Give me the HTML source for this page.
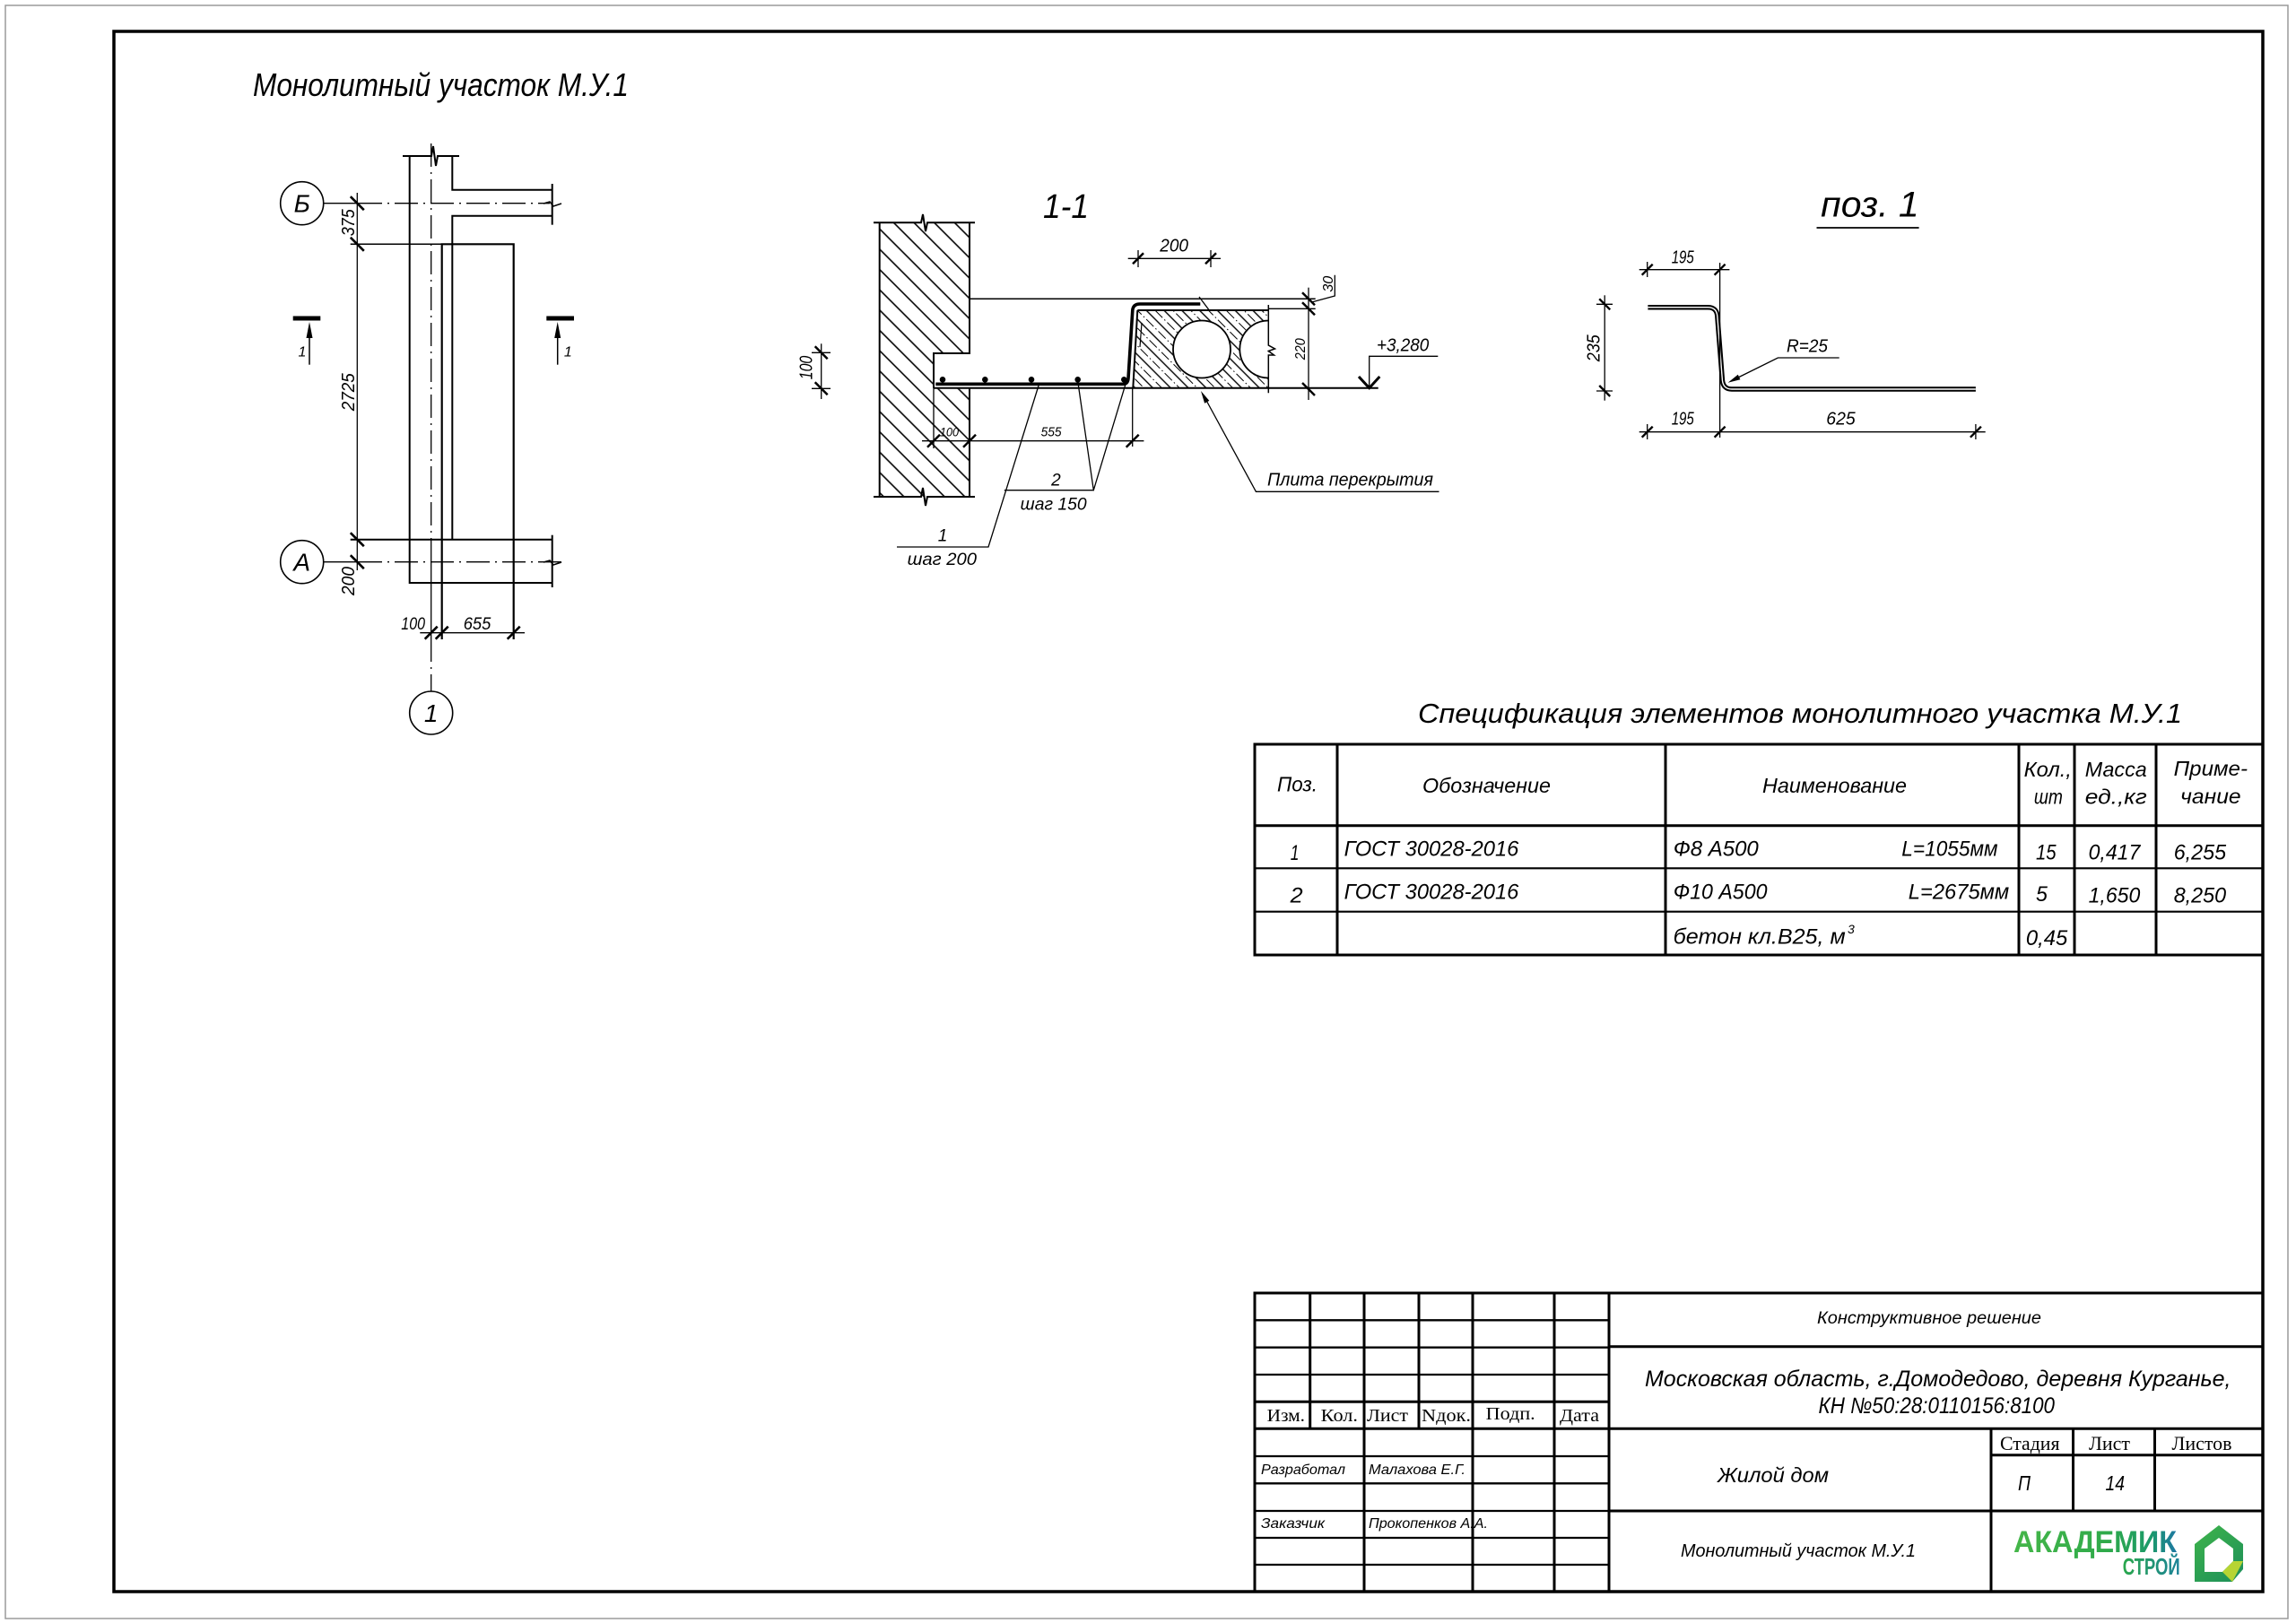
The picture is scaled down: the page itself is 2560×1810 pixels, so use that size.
<!DOCTYPE html>
<html><head><meta charset="utf-8"><style>
html,body{margin:0;padding:0;background:#fff;}
svg{display:block}
.t{font-family:"Liberation Sans","Noto Sans CJK SC",sans-serif;font-style:italic;fill:#000;stroke:none}
.s{font-family:"Liberation Serif","Noto Serif CJK SC",serif;fill:#000;stroke:none}
</style></head><body>
<svg width="2560" height="1810" viewBox="0 0 2560 1810" xmlns="http://www.w3.org/2000/svg">
<defs>
<pattern id="hw" patternUnits="userSpaceOnUse" width="16" height="16" patternTransform="rotate(-45)">
<line x1="1" y1="-2" x2="1" y2="18" stroke="#000" stroke-width="1.6"/>
</pattern>
<pattern id="hs" patternUnits="userSpaceOnUse" width="14" height="19" patternTransform="rotate(-45)">
<line x1="1" y1="-2" x2="1" y2="21" stroke="#000" stroke-width="1.4"/>
<line x1="8" y1="0" x2="8" y2="19" stroke="#000" stroke-width="1" stroke-dasharray="8,3,1.5,3"/>
</pattern>
<linearGradient id="lg" gradientUnits="userSpaceOnUse" x1="2245" y1="0" x2="2436" y2="0">
<stop offset="0" stop-color="#45b649"/><stop offset="0.55" stop-color="#2faa4a"/><stop offset="0.8" stop-color="#1b9a6a"/><stop offset="1" stop-color="#1f6db5"/>
</linearGradient>
<linearGradient id="lg2" gradientUnits="userSpaceOnUse" x1="2366" y1="0" x2="2436" y2="0">
<stop offset="0" stop-color="#2aa84a"/><stop offset="1" stop-color="#1a7fa0"/>
</linearGradient>
<linearGradient id="lg3" gradientUnits="userSpaceOnUse" x1="2447" y1="1701" x2="2501" y2="1763">
<stop offset="0" stop-color="#3fb44a"/><stop offset="1" stop-color="#1c8f5a"/>
</linearGradient>
</defs>
<rect width="2560" height="1810" fill="#fff"/>
<rect x="6" y="6" width="2545" height="1799" fill="none" stroke="#9a9a9a" stroke-width="1.5"/>
<rect x="127" y="35" width="2396" height="1740" fill="none" stroke="#000" stroke-width="3.5"/>

<!-- ============ PLAN ============ -->
<text class="t" x="282" y="107" font-size="36" textLength="419" lengthAdjust="spacingAndGlyphs">Монолитный участок М.У.1</text>
<g fill="none" stroke="#000" stroke-width="2">
<path d="M449,174 H481 L483,163 L486,185 L488,174 H512"/>
<path d="M456.7,174 V650 H615.7"/>
<path d="M504.3,174 V211.7 H615.7"/>
<path d="M615.7,240.7 H504.3 V601.7"/>
<path d="M615.7,205 V250.7"/>
<path d="M606,227 L613,225 L617,230 L626,227" stroke-width="1.5"/>
<path d="M615.7,596.7 V655"/>
<path d="M606,627 L613,625 L617,630 L626,627" stroke-width="1.5"/>
<path d="M492.7,713 V272.3 H572.7 V713" stroke-width="2.2"/>
<path d="M390.7,272.3 H492.7" stroke-width="1.5"/>
<path d="M390.7,601.7 H615.7" stroke-width="2"/>
</g>
<g fill="none" stroke="#000" stroke-width="1.3">
<path d="M360.7,226.7 H400"/>
<path d="M400,226.7 H613" stroke-dasharray="26,6,2,6"/>
<path d="M360.7,626.7 H400"/>
<path d="M400,626.7 H626" stroke-dasharray="26,6,2,6"/>
<path d="M480.7,160 V600" stroke-dasharray="26,6,2,6"/>
<path d="M480.7,600 V716"/>
<path d="M480.7,716 V771" stroke-dasharray="22,6,2,6"/>
<circle cx="336.7" cy="226.7" r="24" stroke-width="1.6"/>
<circle cx="336.7" cy="626.7" r="24" stroke-width="1.6"/>
<circle cx="480.7" cy="795" r="24" stroke-width="1.6"/>
<path d="M398.3,215 V636"/>
<path d="M468.3,705.7 H585"/>
</g>
<g stroke="#000" stroke-width="2.6">
<line x1="390.8" y1="219.2" x2="405.8" y2="234.2"/>
<line x1="390.8" y1="264.8" x2="405.8" y2="279.8"/>
<line x1="390.8" y1="594.2" x2="405.8" y2="609.2"/>
<line x1="390.8" y1="619.2" x2="405.8" y2="634.2"/>
<line x1="473.7" y1="712.7" x2="487.7" y2="698.7"/>
<line x1="485.7" y1="712.7" x2="499.7" y2="698.7"/>
<line x1="565.7" y1="712.7" x2="579.7" y2="698.7"/>
</g>
<text class="t" x="336.7" y="236.5" font-size="28" text-anchor="middle">Б</text>
<text class="t" x="336.7" y="636.5" font-size="28" text-anchor="middle">А</text>
<text class="t" x="480.7" y="805" font-size="28" text-anchor="middle">1</text>
<text class="t" transform="translate(395,248.3) rotate(-90)" font-size="20" text-anchor="middle" textLength="30" lengthAdjust="spacingAndGlyphs">375</text>
<text class="t" transform="translate(395,437.3) rotate(-90)" font-size="20" text-anchor="middle" textLength="42" lengthAdjust="spacingAndGlyphs">2725</text>
<text class="t" transform="translate(395,648) rotate(-90)" font-size="20" text-anchor="middle" textLength="32" lengthAdjust="spacingAndGlyphs">200</text>
<text class="t" x="447.3" y="702" font-size="19" textLength="26.7" lengthAdjust="spacingAndGlyphs">100</text>
<text class="t" x="516.7" y="702" font-size="19" textLength="30.6" lengthAdjust="spacingAndGlyphs">655</text>
<!-- section marks -->
<rect x="326.7" y="352.5" width="30.6" height="5" fill="#000"/>
<line x1="345" y1="372" x2="345" y2="406.7" stroke="#000" stroke-width="1.5"/>
<path d="M345,359 L341.5,377 L348.5,377 Z" fill="#000"/>
<text class="t" x="337" y="397.5" font-size="16" text-anchor="middle">1</text>
<rect x="609.3" y="352.5" width="30.7" height="5" fill="#000"/>
<line x1="621.7" y1="372" x2="621.7" y2="406.7" stroke="#000" stroke-width="1.5"/>
<path d="M621.7,359 L618.2,377 L625.2,377 Z" fill="#000"/>
<text class="t" x="633.3" y="397.5" font-size="16" text-anchor="middle">1</text>

<!-- ============ SECTION 1-1 ============ -->
<text class="t" x="1163" y="243" font-size="38" textLength="51" lengthAdjust="spacingAndGlyphs">1-1</text>
<polygon points="980.7,248.3 1081,248.3 1081,394 1041,394 1041,432.7 1081,432.7 1081,554 980.7,554" fill="url(#hw)" stroke="none"/>
<g fill="none" stroke="#000" stroke-width="2">
<path d="M974,248.3 H1027 L1029,239 L1032,258 L1034,248.3 H1087"/>
<path d="M974,554 H1027 L1029,544 L1032,564 L1034,554 H1087"/>
<path d="M980.7,248.3 V554"/>
<path d="M1081,248.3 V394 H1041 V432.7"/>
<path d="M1081,432.7 V554"/>
</g>
<!-- hollow core slab -->
<polygon points="1268.3,346 1414.3,346 1414.3,432.7 1263.3,432.7" fill="url(#hs)" stroke="none"/>
<circle cx="1340" cy="389.5" r="32" fill="#fff" stroke="#000" stroke-width="1.8"/>
<path d="M1414.3,357.5 A32,32 0 0 0 1414.3,421.5 Z" fill="#fff" stroke="none"/>
<path d="M1414.3,357.5 A32,32 0 0 0 1414.3,421.5" fill="none" stroke="#000" stroke-width="1.8"/>
<g fill="none" stroke="#000" stroke-width="2">
<path d="M1268.3,346 H1414.3"/>
<path d="M1268.3,346 L1263.3,432.7"/>
<path d="M1273,360 L1271,387" stroke-width="1.2"/>
<path d="M1414.3,340 V385 L1421.5,389 L1414.3,391.5 L1420.5,396 L1414.3,396 V438.3" stroke-width="1.5"/>
<path d="M1081,333.3 H1466.7" stroke-width="1.5"/>
<path d="M1337,331 L1349,347" stroke-width="1.3"/>
<path d="M1041,432.7 H1536.7" stroke-width="2"/>
<path d="M1414.3,344.3 H1466.7" stroke-width="1.3"/>
</g>
<path d="M1043.3,428.3 H1252 Q1257.5,428.3 1258,422 L1262.8,346 Q1263.5,339 1271,339 H1338.3" fill="none" stroke="#000" stroke-width="3.6"/>
<g fill="#000">
<circle cx="1051" cy="423.3" r="3.3"/><circle cx="1098.3" cy="423.3" r="3.3"/><circle cx="1150" cy="423.3" r="3.3"/><circle cx="1201.7" cy="423.3" r="3.3"/><circle cx="1253.3" cy="423.3" r="3.3"/>
</g>
<!-- dims section -->
<g fill="none" stroke="#000" stroke-width="1.3">
<path d="M1257.7,288.3 H1361"/>
<path d="M1269,279 V298 M1350,279 V298"/>
<path d="M1459,320.7 V446"/>
<path d="M1463.3,336.7 L1488.3,330 V306.7"/>
<path d="M1526.7,433 V397.3 H1603.3"/>
<path d="M915.7,383.3 V445"/>
<path d="M905,393.3 H926 M905,433.3 H926"/>
<path d="M1028,491.7 H1275.4"/>
<path d="M1041,432.7 V500"/>
<path d="M1262.7,432.7 V498"/>
<path d="M1119.8,546.7 H1219.3 L1201.7,425 M1219.3,546.7 L1255,428.3"/>
<path d="M1000,610 H1102 L1158,430"/>
<path d="M1604.5,548.3 H1400.4 L1342,441"/>
</g>
<g stroke="#000" stroke-width="2.5">
<line x1="1263" y1="294.3" x2="1275" y2="282.3"/>
<line x1="1344" y1="294.3" x2="1356" y2="282.3"/>
<line x1="1452" y1="326.3" x2="1466" y2="340.3"/>
<line x1="1452" y1="337.3" x2="1466" y2="351.3"/>
<line x1="1452" y1="427" x2="1466" y2="441"/>
<line x1="908.7" y1="386.3" x2="922.7" y2="400.3"/>
<line x1="908.7" y1="426.3" x2="922.7" y2="440.3"/>
<line x1="1034" y1="498.7" x2="1048" y2="484.7"/>
<line x1="1074" y1="498.7" x2="1088" y2="484.7"/>
<line x1="1255.7" y1="498.7" x2="1269.7" y2="484.7"/>
</g>
<polyline points="1515,420 1526.7,432.7 1538.3,420" fill="none" stroke="#000" stroke-width="3"/>
<path d="M1339,436 L1348.3,446.9 L1343.1,449.7 Z" fill="#000"/>
<text class="t" x="1293.3" y="280.7" font-size="20" textLength="31.7" lengthAdjust="spacingAndGlyphs">200</text>
<text class="t" transform="translate(1486,316.7) rotate(-90)" font-size="16" text-anchor="middle" textLength="18" lengthAdjust="spacingAndGlyphs">30</text>
<text class="t" transform="translate(1455,389.3) rotate(-90)" font-size="16" text-anchor="middle" textLength="24" lengthAdjust="spacingAndGlyphs">220</text>
<text class="t" x="1535" y="391.7" font-size="20" textLength="58.3" lengthAdjust="spacingAndGlyphs">+3,280</text>
<text class="t" transform="translate(905.5,410) rotate(-90)" font-size="20" text-anchor="middle" textLength="26.6" lengthAdjust="spacingAndGlyphs">100</text>
<text class="t" x="1048" y="486.7" font-size="14" textLength="21" lengthAdjust="spacingAndGlyphs">100</text>
<text class="t" x="1160.6" y="486.7" font-size="15" textLength="23" lengthAdjust="spacingAndGlyphs">555</text>
<text class="t" x="1177.4" y="541.7" font-size="19" text-anchor="middle">2</text>
<text class="t" x="1137.7" y="568.3" font-size="19" textLength="73.9" lengthAdjust="spacingAndGlyphs">шаг 150</text>
<text class="t" x="1051" y="603.3" font-size="19" text-anchor="middle">1</text>
<text class="t" x="1011.6" y="630" font-size="19" textLength="77.4" lengthAdjust="spacingAndGlyphs">шаг 200</text>
<text class="t" x="1413" y="541.7" font-size="20" textLength="185" lengthAdjust="spacingAndGlyphs">Плита перекрытия</text>

<!-- ============ POZ 1 ============ -->
<text class="t" x="2030.2" y="241.7" font-size="40" textLength="109.4" lengthAdjust="spacingAndGlyphs">поз. 1</text>
<line x1="2025.5" y1="254" x2="2139.6" y2="254" stroke="#000" stroke-width="1.8"/>
<path d="M1837.4,342.7 H1904 Q1914,342.7 1914.8,352.5 L1920.4,424 Q1921.3,434 1931,434 H2202.9" fill="none" stroke="#000" stroke-width="5.5"/>
<path d="M1837.4,342.7 H1904 Q1914,342.7 1914.8,352.5 L1920.4,424 Q1921.3,434 1931,434 H2202.9" fill="none" stroke="#fff" stroke-width="1.4"/>
<g fill="none" stroke="#000" stroke-width="1.3">
<path d="M1827.7,300.7 H1928.4"/>
<path d="M1917.6,293 V488"/>
<path d="M1836.7,292 V309"/>
<path d="M1827.7,481.7 H2213.7"/>
<path d="M1836.7,473 V490 M2202.9,473 V490"/>
<path d="M1789.2,329.3 V446.7"/>
<path d="M1780,339.3 H1798 M1780,436 H1798"/>
<path d="M2050.7,399 H1982.4 L1938,421"/>
</g>
<g stroke="#000" stroke-width="2.4">
<line x1="1830.7" y1="306.7" x2="1842.7" y2="294.7"/>
<line x1="1911.6" y1="306.7" x2="1923.6" y2="294.7"/>
<line x1="1830.7" y1="487.7" x2="1842.7" y2="475.7"/>
<line x1="1911.6" y1="487.7" x2="1923.6" y2="475.7"/>
<line x1="2196.9" y1="487.7" x2="2208.9" y2="475.7"/>
<line x1="1783.2" y1="333.3" x2="1795.2" y2="345.3"/>
<line x1="1783.2" y1="430" x2="1795.2" y2="442"/>
</g>
<path d="M1926.6,426.7 L1940.4,423.2 L1937.8,417.8 Z" fill="#000"/>
<text class="t" x="1863.7" y="293.3" font-size="20" textLength="25.1" lengthAdjust="spacingAndGlyphs">195</text>
<text class="t" x="1863.7" y="473.3" font-size="20" textLength="25.1" lengthAdjust="spacingAndGlyphs">195</text>
<text class="t" x="2036.3" y="473.3" font-size="20" textLength="32.4" lengthAdjust="spacingAndGlyphs">625</text>
<text class="t" transform="translate(1783.5,388.3) rotate(-90)" font-size="20" text-anchor="middle" textLength="30" lengthAdjust="spacingAndGlyphs">235</text>
<text class="t" x="1992" y="392.3" font-size="20" textLength="46" lengthAdjust="spacingAndGlyphs">R=25</text>

<!-- ============ SPEC TABLE ============ -->
<text class="t" x="1581" y="806" font-size="31" textLength="852" lengthAdjust="spacingAndGlyphs">Спецификация элементов монолитного участка М.У.1</text>
<g stroke="#000" stroke-width="3" fill="none">
<rect x="1399" y="830" width="1124" height="235"/>
<line x1="1399" y1="920.7" x2="2523" y2="920.7"/>
<line x1="1399" y1="968.3" x2="2523" y2="968.3" stroke-width="2.2"/>
<line x1="1399" y1="1016.7" x2="2523" y2="1016.7" stroke-width="2.2"/>
<path d="M1491,830 V1065 M1857,830 V1065 M2251,830 V1065 M2313,830 V1065 M2404,830 V1065"/>
</g>
<g font-size="23">
<text class="t" x="1424" y="882.7" textLength="45" lengthAdjust="spacingAndGlyphs">Поз.</text>
<text class="t" x="1586" y="884" textLength="143" lengthAdjust="spacingAndGlyphs">Обозначение</text>
<text class="t" x="1965" y="884" textLength="161" lengthAdjust="spacingAndGlyphs">Наименование</text>
<text class="t" x="2256.7" y="866" textLength="53.2" lengthAdjust="spacingAndGlyphs">Кол.,</text>
<text class="t" x="2267.9" y="896.7" textLength="32" lengthAdjust="spacingAndGlyphs">шт</text>
<text class="t" x="2324.8" y="866" textLength="68.9" lengthAdjust="spacingAndGlyphs">Масса</text>
<text class="t" x="2324.8" y="896.7" textLength="68.9" lengthAdjust="spacingAndGlyphs">ед.,кг</text>
<text class="t" x="2423.7" y="865" textLength="82.3" lengthAdjust="spacingAndGlyphs">Приме-</text>
<text class="t" x="2431.2" y="896" textLength="67.4" lengthAdjust="spacingAndGlyphs">чание</text>
</g>
<g font-size="24">
<text class="t" x="1438.7" y="959" textLength="9.7" lengthAdjust="spacingAndGlyphs">1</text>
<text class="t" x="1498.6" y="954.3" textLength="194.8" lengthAdjust="spacingAndGlyphs">ГОСТ 30028-2016</text>
<text class="t" x="1865.7" y="954.3" textLength="95.1" lengthAdjust="spacingAndGlyphs">Ф8 А500</text>
<text class="t" x="2120.3" y="954.3" textLength="107.2" lengthAdjust="spacingAndGlyphs">L=1055мм</text>
<text class="t" x="2270" y="958.3" textLength="22.6" lengthAdjust="spacingAndGlyphs">15</text>
<text class="t" x="2328.6" y="958.3" textLength="57.7" lengthAdjust="spacingAndGlyphs">0,417</text>
<text class="t" x="2423.7" y="958.3" textLength="58.4" lengthAdjust="spacingAndGlyphs">6,255</text>
<text class="t" x="1438.7" y="1006.7" textLength="14" lengthAdjust="spacingAndGlyphs">2</text>
<text class="t" x="1498.6" y="1002.7" textLength="194.8" lengthAdjust="spacingAndGlyphs">ГОСТ 30028-2016</text>
<text class="t" x="1865.7" y="1002.7" textLength="104.8" lengthAdjust="spacingAndGlyphs">Ф10 А500</text>
<text class="t" x="2127.8" y="1002.7" textLength="112.4" lengthAdjust="spacingAndGlyphs">L=2675мм</text>
<text class="t" x="2270" y="1005" textLength="12.9" lengthAdjust="spacingAndGlyphs">5</text>
<text class="t" x="2328.6" y="1006.3" textLength="57.7" lengthAdjust="spacingAndGlyphs">1,650</text>
<text class="t" x="2423.7" y="1006.3" textLength="58.4" lengthAdjust="spacingAndGlyphs">8,250</text>
<text class="t" x="1865.7" y="1052.5" textLength="192" lengthAdjust="spacingAndGlyphs">бетон кл.В25, м</text>
<text class="t" x="2060" y="1041" font-size="14">3</text>
<text class="t" x="2258.9" y="1054" textLength="46.4" lengthAdjust="spacingAndGlyphs">0,45</text>
</g>

<!-- ============ TITLE BLOCK ============ -->
<g stroke="#000" stroke-width="3" fill="none">
<rect x="1399" y="1442" width="1124" height="333"/>
<path d="M1460.7,1442 V1593.3 M1582,1442 V1593.3"/>
<path d="M1521,1442 V1775 M1642,1442 V1775 M1733,1442 V1775 M1794,1442 V1775"/>
<path d="M1399,1472.3 H1794 M1399,1502.7 H1794 M1399,1533 H1794 M1399,1624 H1794 M1399,1654.3 H1794 M1399,1685 H1794 M1399,1715 H1794 M1399,1745 H1794" stroke-width="2.3"/>
<path d="M1399,1563.3 H1794 M1399,1593.3 H1794"/>
<path d="M1794,1501.7 H2523 M1794,1593.3 H2523 M1794,1685 H2523 M2220,1593.3 V1775 M2311.5,1593.3 V1685 M2402.5,1593.3 V1685 M2220,1622.7 H2523"/>
</g>
<g font-size="20">
<text class="s" x="1412.7" y="1585" textLength="42.3" lengthAdjust="spacingAndGlyphs">Изм.</text>
<text class="s" x="1472.7" y="1585" textLength="41.3" lengthAdjust="spacingAndGlyphs">Кол.</text>
<text class="s" x="1524" y="1585" textLength="46" lengthAdjust="spacingAndGlyphs">Лист</text>
<text class="s" x="1585" y="1585" textLength="55" lengthAdjust="spacingAndGlyphs">Nдок.</text>
<text class="s" x="1656.7" y="1583" textLength="55" lengthAdjust="spacingAndGlyphs">Подп.</text>
<text class="s" x="1739" y="1585" textLength="44" lengthAdjust="spacingAndGlyphs">Дата</text>
</g>
<g font-size="16">
<text class="t" x="1406" y="1644" textLength="94" lengthAdjust="spacingAndGlyphs">Разработал</text>
<text class="t" x="1526" y="1644" textLength="108" lengthAdjust="spacingAndGlyphs">Малахова Е.Г.</text>
<text class="t" x="1406" y="1704" textLength="71" lengthAdjust="spacingAndGlyphs">Заказчик</text>
<text class="t" x="1526" y="1704" textLength="133" lengthAdjust="spacingAndGlyphs">Прокопенков А.А.</text>
</g>
<text class="t" x="2026" y="1476" font-size="19" textLength="250" lengthAdjust="spacingAndGlyphs">Конструктивное решение</text>
<text class="t" x="1834" y="1546" font-size="25" textLength="653.5" lengthAdjust="spacingAndGlyphs">Московская область, г.Домодедово, деревня Курганье,</text>
<text class="t" x="2027.5" y="1576" font-size="25" textLength="263.5" lengthAdjust="spacingAndGlyphs">КН №50:28:0110156:8100</text>
<text class="t" x="1915" y="1653" font-size="23" textLength="124" lengthAdjust="spacingAndGlyphs">Жилой дом</text>
<text class="s" x="2230" y="1617" font-size="22" textLength="66.5" lengthAdjust="spacingAndGlyphs">Стадия</text>
<text class="s" x="2329" y="1617" font-size="22" textLength="46" lengthAdjust="spacingAndGlyphs">Лист</text>
<text class="s" x="2421.5" y="1617" font-size="22" textLength="67" lengthAdjust="spacingAndGlyphs">Листов</text>
<text class="t" x="2250" y="1662" font-size="23" textLength="14" lengthAdjust="spacingAndGlyphs">П</text>
<text class="t" x="2347.5" y="1662" font-size="23" textLength="21.5" lengthAdjust="spacingAndGlyphs">14</text>
<text class="t" x="1874" y="1736" font-size="20" textLength="262" lengthAdjust="spacingAndGlyphs">Монолитный участок М.У.1</text>
<!-- logo -->
<text x="2245" y="1731" font-family="Liberation Sans,sans-serif" font-weight="bold" font-size="34" fill="url(#lg)" textLength="182" lengthAdjust="spacingAndGlyphs">АКАДЕМИК</text>
<text x="2366.7" y="1756" font-family="Liberation Sans,sans-serif" font-weight="bold" font-size="26" fill="url(#lg2)" textLength="64" lengthAdjust="spacingAndGlyphs">СТРОЙ</text>
<path d="M2447,1722 L2474,1701 L2501,1722 L2501,1750 L2489,1764 L2447,1764 Z" fill="url(#lg3)"/>
<path d="M2458,1727 L2474,1715 L2490,1727 L2490,1741 L2478,1753 L2458,1753 Z" fill="#fff"/>
<path d="M2478,1753 L2490,1741 L2501,1741 L2489,1764 Z" fill="#b6d433"/>
</svg>
</body></html>
